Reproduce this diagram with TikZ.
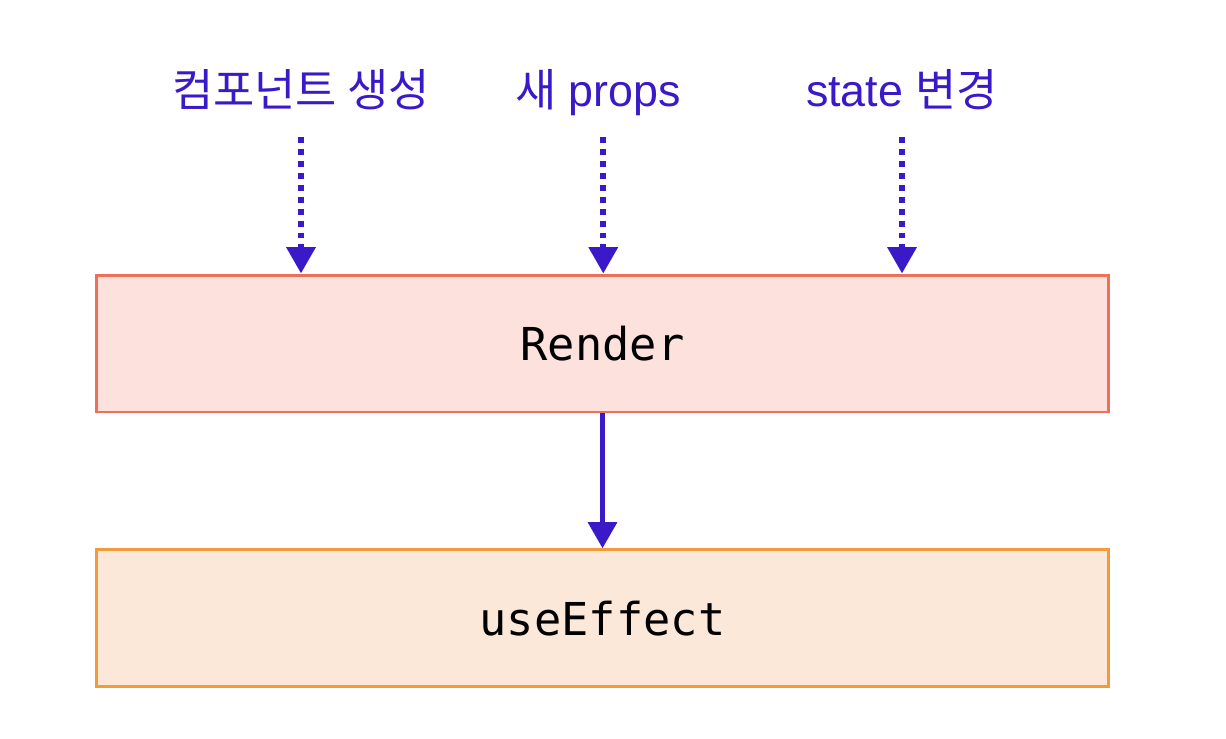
\documentclass[tikz,border=0pt]{standalone}
\usepackage{fontspec}
\setsansfont{Liberation Sans}
\setmonofont{DejaVu Sans Mono}
\newfontfamily\kr{Noto Sans CJK KR}
\usepackage{tikz}
\usetikzlibrary{arrows.meta,positioning}
\definecolor{evblue}{RGB}{58,26,200}
\definecolor{renderfill}{RGB}{252,225,221}
\definecolor{renderline}{RGB}{238,112,91}
\definecolor{effectfill}{RGB}{252,232,216}
\definecolor{effectline}{RGB}{243,154,58}

\begin{document}
\begin{tikzpicture}
          [x=0.02cm,y=-0.02cm,node distance=2.7cm,
           >={Triangle[width=16pt,length=15pt]}]
          \tikzstyle{box}=[draw,line width=1.7pt,minimum width=20.26cm,minimum height=2.74cm,font=\ttfamily\fontsize{25.8}{30}\selectfont]
          \tikzstyle{cause}=[text=evblue,anchor=base,inner sep=0pt,font=\sffamily\fontsize{25.5}{30}\selectfont]
          \tikzstyle{trigger}=[->,evblue,line width=3.4pt,dash pattern=on 3.4pt off 3.4pt,shorten <=17.6pt]
          \useasboundingbox (0,0) rectangle (1226,738);

          \node[box,fill=renderfill,draw=renderline] (render) at (602.5,343.5) {Render};
          \node[box,fill=effectfill,draw=effectline] (effect) [below=of render] {useEffect};

          \node[cause] (c1) at (301,106) {{\kr 컴포넌트 생성}};
          \node[cause] (c2) at (598,106) {{\kr 새} props};
          \node[cause] (c3) at (902,106) {state {\kr 변경}};

          \draw[trigger] (c1.base) -- (c1.base |- render.north);
          \draw[trigger] ([xshift=3]c2.base) -- ([xshift=3]c2.base |- render.north);
          \draw[trigger] (c3.base) -- (c3.base |- render.north);
          \draw[->,evblue,line width=3.4pt] (render) -- (effect);
        \end{tikzpicture}
\end{document}
